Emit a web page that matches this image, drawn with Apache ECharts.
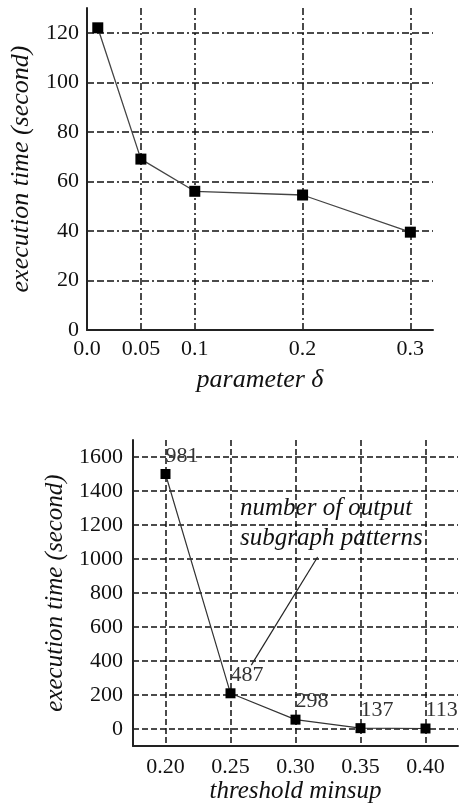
<!DOCTYPE html>
<html>
<head>
<meta charset="utf-8">
<script src="https://cdn.jsdelivr.net/npm/echarts@6/dist/echarts.min.js"></script>
<style>
  html, body { margin: 0; padding: 0; background: #fff; }
  #chart { width: 461px; height: 805px; }
</style>
</head>
<body>
<div id="chart"></div>
<script>
// top plot: parameter delta
const deltaX = [0.01, 0.05, 0.1, 0.2, 0.3]
const deltaTime = [122, 69, 56, 54.5, 39.5]
const deltaTicks = [0, 0.05, 0.1, 0.2, 0.3]
const deltaTickText = ['0.0', '0.05', '0.1', '0.2', '0.3']
const topTimeTicks = [0, 20, 40, 60, 80, 100, 120]

// bottom plot: threshold minsup
const minsupX = [0.20, 0.25, 0.30, 0.35, 0.40]
const minsupTime = [1500, 210, 55, 5, 3]
const patternCount = [981, 487, 298, 137, 113]
const minsupTicks = [0.20, 0.25, 0.30, 0.35, 0.40]
const bottomTimeTicks = [0, 200, 400, 600, 800, 1000, 1200, 1400, 1600]

const serif = '"Liberation Serif", "Times New Roman", serif'
const ink = '#111'

function near(list, v) {
  return list.findIndex(t => Math.abs(t - v) < 1e-6)
}

// one colour per split line (ticks run from min to max by interval); 'none' hides it
function lineColors(min, max, step, keep, skipZero) {
  const out = []
  const n = Math.round((max - min) / step + 1e-9)
  for (let i = 0; i <= n; i++) {
    const v = min + i * step
    const hit = near(keep, v) >= 0 && !(skipZero && Math.abs(v) < 1e-9)
    out.push(hit ? '#111' : 'none')
  }
  // the max itself is one more tick if it is not on the step
  if (Math.abs(min + n * step - max) > 1e-6) out.push('none')
  return out
}

const tickLabel = { fontFamily: serif, fontSize: 22, color: ink }
const nameStyle = { fontFamily: serif, fontSize: 26, fontStyle: 'italic', color: ink }
const axisLine = { show: true, onZero: false, lineStyle: { color: '#222', width: 2 } }

const chart = echarts.init(document.getElementById('chart'))

const option = {
  animation: false,
  backgroundColor: '#fff',
  grid: [
    { left: 83, top: 8, width: 350, height: 322 },
    { left: 133, top: 440, width: 332, height: 306 }
  ],
  xAxis: [
    {
      gridIndex: 0, type: 'value', min: 0, max: 0.321, interval: 0.05,
      name: 'parameter δ', nameLocation: 'middle', nameGap: 37, nameTextStyle: nameStyle,
      axisLine: axisLine, axisTick: { show: false },
      axisLabel: Object.assign({ margin: 8, showMaxLabel: false,
        formatter: v => { const i = near(deltaTicks, v); return i >= 0 ? deltaTickText[i] : '' } }, tickLabel),
      splitLine: { show: true, lineStyle: { color: lineColors(0, 0.321, 0.05, deltaTicks, true), width: 1.5, type: [7, 3, 2, 3] } }
    },
    {
      gridIndex: 1, type: 'value', min: 0.175, max: 0.425, interval: 0.025,
      name: 'threshold minsup', nameLocation: 'middle', nameGap: 33, nameTextStyle: Object.assign({}, nameStyle, { fontSize: 25 }),
      axisLine: axisLine, axisTick: { show: false },
      axisLabel: Object.assign({ margin: 10,
        formatter: v => near(minsupTicks, v) >= 0 ? v.toFixed(2) : '' }, tickLabel),
      splitLine: { show: true, lineStyle: { color: lineColors(0.175, 0.425, 0.025, minsupTicks, false), width: 1.5, type: [6, 3] } }
    }
  ],
  yAxis: [
    {
      gridIndex: 0, type: 'value', min: 0, max: 130, interval: 20,
      name: 'execution time (second)', nameLocation: 'middle', nameGap: 53, nameTextStyle: nameStyle,
      axisLine: axisLine, axisTick: { show: false },
      axisLabel: Object.assign({ margin: 8,
        formatter: v => near(topTimeTicks, v) >= 0 ? String(v) : '' }, tickLabel),
      splitLine: { show: true, lineStyle: { color: lineColors(0, 130, 20, topTimeTicks, true), width: 1.5, type: [7, 3, 7, 3, 7, 3, 2, 3] } }
    },
    {
      gridIndex: 1, type: 'value', min: -100, max: 1700, interval: 100,
      name: 'execution time (second)', nameLocation: 'middle', nameGap: 60, nameTextStyle: Object.assign({}, nameStyle, { fontSize: 25 }),
      axisLine: axisLine, axisTick: { show: false },
      axisLabel: Object.assign({ margin: 10,
        formatter: v => near(bottomTimeTicks, v) >= 0 ? String(v) : '' }, tickLabel),
      splitLine: { show: true, lineStyle: { color: lineColors(-100, 1700, 100, bottomTimeTicks, false), width: 1.5, type: [6, 3] } }
    }
  ],
  graphic: [
    {
      type: 'text', left: 240, top: 493, z: 10,
      style: {
        text: 'number of output\nsubgraph patterns',
        font: 'italic 25px ' + serif, fill: ink, lineHeight: 30
      }
    }
  ],
  series: [
    {
      type: 'line', xAxisIndex: 0, yAxisIndex: 0,
      data: deltaX.map((x, i) => [x, deltaTime[i]]),
      symbol: 'rect', symbolSize: 11,
      itemStyle: { color: '#000' },
      lineStyle: { color: '#444', width: 1.3 }
    },
    {
      type: 'line', xAxisIndex: 1, yAxisIndex: 1,
      data: minsupX.map((x, i) => [x, minsupTime[i]]),
      symbol: 'rect', symbolSize: 10,
      itemStyle: { color: '#000' },
      lineStyle: { color: '#333', width: 1.2 },
      label: {
        show: true, position: 'top', align: 'left', distance: 2,
        fontFamily: serif, fontSize: 22, color: '#333',
        formatter: p => String(patternCount[p.dataIndex])
      },
      // arrow from the note down to the 487 label
      markLine: {
        silent: true, symbolSize: [0, 9],
        label: { show: false },
        lineStyle: { color: '#222', width: 1.2, type: 'solid' },
        data: [[
          { coord: [0.317, 1012], symbol: 'none' },
          { coord: [0.266, 376], symbol: 'arrow' }
        ]]
      }
    }
  ]
}

chart.setOption(option)
</script>
</body>
</html>
